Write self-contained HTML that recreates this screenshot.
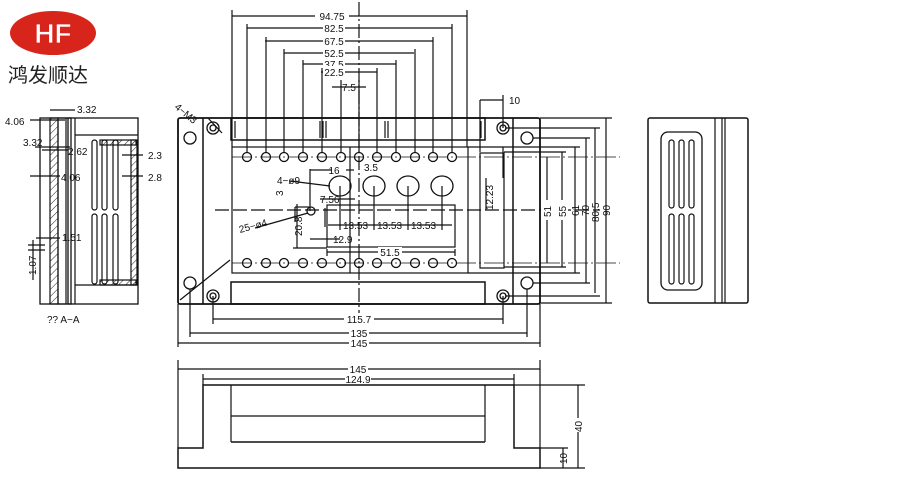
<!DOCTYPE html>
<html><head><meta charset="utf-8"><style>
html,body{margin:0;padding:0;background:#fff;width:900px;height:500px;overflow:hidden}
svg{display:block}
text{font-family:"Liberation Sans",sans-serif;font-size:10px;fill:#111}
</style></head><body>
<svg width="900" height="500" viewBox="0 0 900 500" xmlns="http://www.w3.org/2000/svg">
<defs>
<pattern id="h" width="5" height="5" patternUnits="userSpaceOnUse" patternTransform="rotate(45)"><line x1="0" y1="0" x2="0" y2="5" stroke="#222" stroke-width="1"/></pattern>
</defs>
<!-- logo -->
<ellipse cx="53" cy="33" rx="43" ry="22" fill="#d8251c"/>
<text x="53" y="43" text-anchor="middle" style="font-size:28px;font-weight:bold;fill:#fff;stroke:#d8251c;stroke-width:0.8;font-family:'Liberation Sans',sans-serif">HF</text>
<text x="8" y="82" style="font-size:20px;font-family:'Liberation Sans','Noto Sans CJK SC',sans-serif;fill:#222">鸿发顺达</text>

<g stroke="#111" stroke-width="1.2" fill="none">
<!-- top dims -->
<g>
<line x1="232" y1="16" x2="467" y2="16"/><line x1="247" y1="28" x2="452" y2="28"/>
<line x1="265" y1="41" x2="433" y2="41"/><line x1="284" y1="53" x2="414" y2="53"/>
<line x1="303" y1="64" x2="396" y2="64"/><line x1="321" y1="72" x2="377" y2="72"/>
<line x1="332" y1="87" x2="366" y2="87"/>
<line x1="232" y1="10" x2="232" y2="147"/><line x1="467" y1="10" x2="467" y2="147"/>
<line x1="247" y1="24" x2="247" y2="152"/><line x1="452" y1="24" x2="452" y2="152"/>
<line x1="266" y1="37" x2="266" y2="152"/><line x1="433" y1="37" x2="433" y2="152"/>
<line x1="284" y1="49" x2="284" y2="152"/><line x1="415" y1="49" x2="415" y2="152"/>
<line x1="303" y1="60" x2="303" y2="152"/><line x1="396" y1="60" x2="396" y2="152"/>
<line x1="322" y1="68" x2="322" y2="152"/><line x1="377" y1="68" x2="377" y2="152"/>
<line x1="341" y1="80" x2="341" y2="152"/><line x1="359" y1="80" x2="359" y2="152"/>
<line x1="359" y1="2" x2="359" y2="320" stroke-dasharray="14,3,2,3"/>
<line x1="480" y1="100" x2="480" y2="152"/><line x1="503" y1="95" x2="503" y2="128"/>
<line x1="480" y1="100" x2="503" y2="100"/>
</g>
<!-- main top view -->
<rect x="178" y="118" width="362" height="186" rx="2" stroke-width="1.8"/>
<line x1="203" y1="118" x2="203" y2="304" stroke-width="1.5"/>
<line x1="513" y1="118" x2="513" y2="304" stroke-width="1.5"/>
<rect x="231" y="118" width="254" height="22" stroke-width="1.5"/>
<line x1="235" y1="121" x2="235" y2="138"/><line x1="481" y1="121" x2="481" y2="138"/>
<line x1="320" y1="121" x2="320" y2="138"/><line x1="323" y1="121" x2="323" y2="138"/><line x1="326" y1="121" x2="326" y2="138"/>
<line x1="385" y1="121" x2="385" y2="138"/><line x1="388" y1="121" x2="388" y2="138"/>
<rect x="231" y="282" width="254" height="22" stroke-width="1.5"/>
<rect x="232" y="147" width="236" height="126"/>
<line x1="350" y1="147" x2="350" y2="273"/>
<line x1="215" y1="210" x2="600" y2="210" stroke-dasharray="14,4"/>
<rect x="327" y="205" width="128" height="42"/>
<rect x="480" y="153" width="24" height="115"/>
<line x1="232" y1="157" x2="620" y2="157" stroke-dasharray="20,3,2,3" stroke-width="0.8"/>
<line x1="232" y1="263" x2="620" y2="263" stroke-dasharray="20,3,2,3" stroke-width="0.8"/>
<g stroke-width="1.3">
<circle cx="247" cy="157" r="4.5"/><circle cx="266" cy="157" r="4.5"/><circle cx="284" cy="157" r="4.5"/><circle cx="303" cy="157" r="4.5"/><circle cx="322" cy="157" r="4.5"/><circle cx="341" cy="157" r="4.5"/><circle cx="359" cy="157" r="4.5"/><circle cx="377" cy="157" r="4.5"/><circle cx="396" cy="157" r="4.5"/><circle cx="415" cy="157" r="4.5"/><circle cx="433" cy="157" r="4.5"/><circle cx="452" cy="157" r="4.5"/>
<circle cx="247" cy="263" r="4.5"/><circle cx="266" cy="263" r="4.5"/><circle cx="284" cy="263" r="4.5"/><circle cx="303" cy="263" r="4.5"/><circle cx="322" cy="263" r="4.5"/><circle cx="341" cy="263" r="4.5"/><circle cx="359" cy="263" r="4.5"/><circle cx="377" cy="263" r="4.5"/><circle cx="396" cy="263" r="4.5"/><circle cx="415" cy="263" r="4.5"/><circle cx="433" cy="263" r="4.5"/><circle cx="452" cy="263" r="4.5"/>
<ellipse cx="340" cy="186" rx="11" ry="10"/><ellipse cx="374" cy="186" rx="11" ry="10"/><ellipse cx="408" cy="186" rx="11" ry="10"/><ellipse cx="442" cy="186" rx="11" ry="10"/>
<circle cx="311" cy="211" r="4"/>
<circle cx="213" cy="128" r="6"/><circle cx="213" cy="128" r="3"/>
<circle cx="503" cy="128" r="6"/><circle cx="503" cy="128" r="3"/>
<circle cx="213" cy="296" r="6"/><circle cx="213" cy="296" r="3"/>
<circle cx="503" cy="296" r="6"/><circle cx="503" cy="296" r="3"/>
<circle cx="190" cy="138" r="6"/><circle cx="527" cy="138" r="6"/>
<circle cx="190" cy="283" r="6"/><circle cx="527" cy="283" r="6"/>
</g>
<!-- inner dims -->
<line x1="340" y1="186" x2="340" y2="230"/><line x1="374" y1="186" x2="374" y2="230"/><line x1="408" y1="186" x2="408" y2="230"/><line x1="442" y1="186" x2="442" y2="230"/>
<line x1="328" y1="225" x2="452" y2="225"/>
<line x1="310" y1="169" x2="310" y2="211"/><line x1="310" y1="170" x2="332" y2="170"/><line x1="346" y1="170" x2="354" y2="170"/>
<line x1="320" y1="199" x2="355" y2="199"/>
<line x1="325" y1="208" x2="325" y2="227"/>
<line x1="295" y1="207" x2="309" y2="207"/>
<line x1="295" y1="207" x2="295" y2="222"/>
<line x1="297" y1="204" x2="297" y2="248"/><line x1="293" y1="248" x2="327" y2="248"/>
<line x1="310" y1="239" x2="340" y2="239"/>
<line x1="327" y1="252" x2="455" y2="252"/><line x1="327" y1="249" x2="327" y2="256"/><line x1="455" y1="249" x2="455" y2="256"/>
<line x1="290" y1="181" x2="330" y2="186"/>
<line x1="255" y1="228" x2="308" y2="213"/>
<line x1="208" y1="118" x2="222" y2="133"/>
<line x1="180" y1="300" x2="230" y2="260"/>
<line x1="503" y1="178" x2="503" y2="147"/>
<line x1="486" y1="178" x2="486" y2="210"/>
<!-- right dims -->
<line x1="505" y1="128" x2="600" y2="128"/><line x1="505" y1="296" x2="600" y2="296"/>
<line x1="533" y1="138" x2="590" y2="138"/><line x1="533" y1="283" x2="590" y2="283"/>
<line x1="540" y1="118" x2="612" y2="118"/><line x1="540" y1="303" x2="612" y2="303"/>
<line x1="468" y1="147" x2="580" y2="147"/><line x1="468" y1="273" x2="580" y2="273"/>
<line x1="504" y1="152" x2="566" y2="152"/><line x1="504" y1="267" x2="566" y2="267"/>
<line x1="547" y1="157" x2="547" y2="263"/><line x1="562" y1="152" x2="562" y2="267"/>
<line x1="575" y1="147" x2="575" y2="273"/><line x1="586" y1="138" x2="586" y2="283"/>
<line x1="595" y1="128" x2="595" y2="293"/><line x1="606" y1="118" x2="606" y2="303"/>
<!-- bottom dims of top view -->
<line x1="213" y1="296" x2="213" y2="324"/><line x1="503" y1="296" x2="503" y2="324"/>
<line x1="190" y1="289" x2="190" y2="337"/><line x1="527" y1="289" x2="527" y2="337"/>
<line x1="178" y1="304" x2="178" y2="347"/><line x1="540" y1="304" x2="540" y2="347"/>
<line x1="213" y1="319" x2="503" y2="319"/><line x1="190" y1="333" x2="527" y2="333"/><line x1="178" y1="343" x2="540" y2="343"/>
<!-- side view right -->
<rect x="648" y="118" width="100" height="185" rx="2" stroke-width="1.5"/>
<line x1="715" y1="118" x2="715" y2="303"/><line x1="722" y1="118" x2="722" y2="303"/><line x1="725" y1="118" x2="725" y2="303"/>
<rect x="661" y="132" width="41" height="158" rx="7" stroke-width="1.3"/>
<rect x="669" y="140" width="5" height="68" rx="2.5"/><rect x="679" y="140" width="5" height="68" rx="2.5"/><rect x="689" y="140" width="5" height="68" rx="2.5"/>
<rect x="669" y="214" width="5" height="70" rx="2.5"/><rect x="679" y="214" width="5" height="70" rx="2.5"/><rect x="689" y="214" width="5" height="70" rx="2.5"/>
<!-- section A-A -->
<rect x="40" y="118" width="31" height="186" stroke-width="1.3"/>
<rect x="50" y="118" width="8" height="186" fill="url(#h)"/>
<rect x="58" y="118" width="8" height="186"/>
<rect x="68" y="118" width="70" height="186" stroke-width="1.3"/>
<line x1="75" y1="118" x2="75" y2="304"/>
<line x1="75" y1="135" x2="138" y2="135"/><line x1="75" y1="285" x2="138" y2="285"/>
<rect x="100" y="140" width="36" height="5" fill="url(#h)"/>
<rect x="100" y="280" width="36" height="5" fill="url(#h)"/>
<rect x="131" y="140" width="6" height="145" fill="url(#h)"/>
<rect x="92" y="140" width="5" height="70" rx="2.5"/><rect x="102" y="140" width="5" height="70" rx="2.5"/><rect x="113" y="140" width="5" height="70" rx="2.5"/>
<rect x="92" y="214" width="5" height="70" rx="2.5"/><rect x="102" y="214" width="5" height="70" rx="2.5"/><rect x="113" y="214" width="5" height="70" rx="2.5"/>
<line x1="30" y1="120" x2="65" y2="120"/><line x1="50" y1="110" x2="75" y2="110"/>
<line x1="35" y1="147" x2="70" y2="147"/><line x1="42" y1="150" x2="68" y2="150"/>
<line x1="30" y1="176" x2="60" y2="176"/><line x1="36" y1="238" x2="60" y2="238"/>
<line x1="28" y1="245" x2="45" y2="245"/><line x1="28" y1="250" x2="45" y2="250"/><line x1="33" y1="240" x2="33" y2="280"/>
<line x1="122" y1="155" x2="143" y2="155"/><line x1="122" y1="176" x2="143" y2="176"/>
<!-- bottom front view -->
<path d="M178,468 L178,448 L203,448 L203,385 L514,385 L514,448 L540,448 L540,468 Z" stroke-width="1.5"/>
<line x1="231" y1="385" x2="231" y2="442"/><line x1="485" y1="385" x2="485" y2="442"/>
<line x1="231" y1="442" x2="485" y2="442" stroke-width="1.5"/><line x1="231" y1="416" x2="485" y2="416"/>
<line x1="178" y1="360" x2="178" y2="448"/><line x1="540" y1="360" x2="540" y2="448"/>
<line x1="203" y1="374" x2="203" y2="385"/><line x1="514" y1="374" x2="514" y2="385"/>
<line x1="178" y1="369" x2="540" y2="369"/><line x1="203" y1="379" x2="514" y2="379"/>
<line x1="514" y1="385" x2="585" y2="385"/><line x1="540" y1="468" x2="585" y2="468"/><line x1="540" y1="448" x2="568" y2="448"/>
<line x1="578" y1="385" x2="578" y2="468"/><line x1="563" y1="448" x2="563" y2="468"/>
</g>
<!-- labels -->
<g>
<rect x="315" y="10" width="34" height="11" fill="#fff"/><text x="332" y="20" text-anchor="middle">94.75</text>
<rect x="323" y="22" width="22" height="11" fill="#fff"/><text x="334" y="32" text-anchor="middle">82.5</text>
<rect x="323" y="35" width="22" height="11" fill="#fff"/><text x="334" y="45" text-anchor="middle">67.5</text>
<rect x="323" y="47" width="22" height="11" fill="#fff"/><text x="334" y="57" text-anchor="middle">52.5</text>
<rect x="323" y="58" width="22" height="11" fill="#fff"/><text x="334" y="68" text-anchor="middle">37.5</text>
<rect x="323" y="66" width="22" height="11" fill="#fff"/><text x="334" y="76" text-anchor="middle">22.5</text>
<text x="349" y="91" text-anchor="middle">7.5</text>
<text x="509" y="104">10</text>
<text x="174" y="108" transform="rotate(40 174 108)">4−M3</text>
<text x="334" y="174" text-anchor="middle">16</text>
<text x="364" y="171">3.5</text>
<text x="277" y="184">4−ø9</text>
<text x="320" y="203">7.56</text>
<text x="283" y="196" transform="rotate(-90 283 196)">3</text>
<text x="240" y="233" transform="rotate(-15 240 233)">25−ø4</text>
<text x="302" y="236" transform="rotate(-90 302 236)">20.8</text>
<text x="343" y="229">13.53</text><text x="377" y="229">13.53</text><text x="411" y="229">13.53</text>
<text x="333" y="243">12.9</text>
<rect x="378" y="247" width="24" height="10" fill="#fff"/><text x="390" y="256" text-anchor="middle">51.5</text>
<text x="493" y="210" transform="rotate(-90 493 210)">12.23</text>
<rect x="541" y="200" width="12" height="20" fill="#fff"/><text x="551" y="217" transform="rotate(-90 551 217)">51</text>
<rect x="556" y="200" width="12" height="20" fill="#fff"/><text x="566" y="217" transform="rotate(-90 566 217)">55</text>
<text x="579" y="216" transform="rotate(-90 579 216)">61</text>
<text x="589" y="216" transform="rotate(-90 589 216)">70</text>
<text x="599" y="222" transform="rotate(-90 599 222)">80.5</text>
<text x="610" y="216" transform="rotate(-90 610 216)">90</text>
<rect x="344" y="313" width="30" height="11" fill="#fff"/><text x="359" y="323" text-anchor="middle">115.7</text>
<rect x="349" y="327" width="20" height="11" fill="#fff"/><text x="359" y="337" text-anchor="middle">135</text>
<rect x="349" y="337" width="20" height="11" fill="#fff"/><text x="359" y="347" text-anchor="middle">145</text>
<rect x="348" y="363" width="20" height="11" fill="#fff"/><text x="358" y="373" text-anchor="middle">145</text>
<rect x="345" y="373" width="26" height="11" fill="#fff"/><text x="358" y="383" text-anchor="middle">124.9</text>
<rect x="573" y="418" width="10" height="14" fill="#fff"/><text x="582" y="432" transform="rotate(-90 582 432)">40</text>
<text x="567" y="464" transform="rotate(-90 567 464)">10</text>
<text x="77" y="113">3.32</text>
<text x="5" y="125">4.06</text>
<text x="23" y="146">3.32</text>
<text x="68" y="155">2.62</text>
<text x="61" y="181">4.06</text>
<text x="62" y="241">1.51</text>
<text x="36" y="275" transform="rotate(-90 36 275)">1.07</text>
<text x="148" y="159">2.3</text>
<text x="148" y="181">2.8</text>
<text x="47" y="323">?? A−A</text>
</g>
</svg>
</body></html>
